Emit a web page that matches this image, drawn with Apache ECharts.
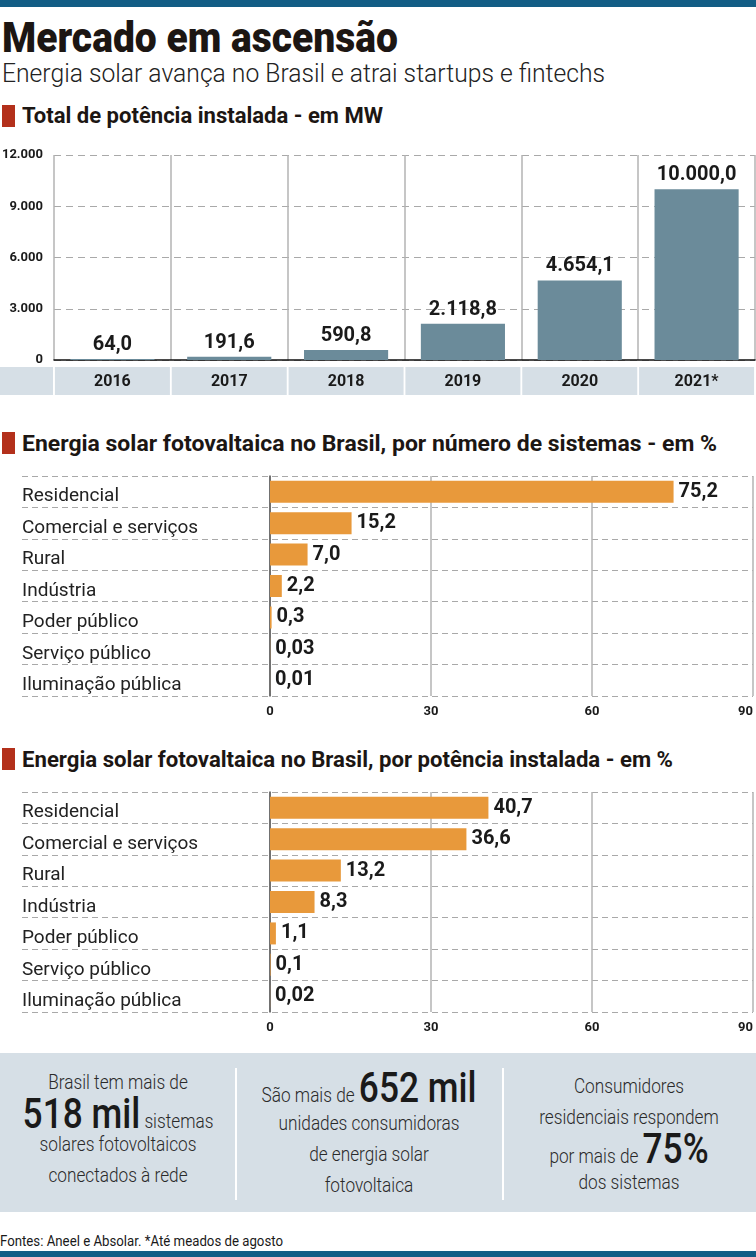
<!DOCTYPE html>
<html lang="pt-BR">
<head>
<meta charset="UTF-8">
<title>Mercado em ascensão</title>
<script src="https://cdn.jsdelivr.net/npm/echarts@6/dist/echarts.min.js"></script>
<style>
    body { margin: 0; background: #fff; font-family: Roboto, "Noto Sans", sans-serif; color: #1a1a1a; }
    #page { position: relative; width: 756px; height: 1257px; overflow: hidden; }
    .abs { position: absolute; }
    .faixa { left: 0; width: 756px; background: #135d85; }
    .quad { left: 2px; width: 13px; height: 22px; background: #b3301b; }
    .fit { white-space: nowrap; transform-origin: left top; display: inline-block; }
    .titulo { left: 2px; top: 17px; font-size: 42px; line-height: 42px; font-weight: 900; color: #1c1613; }
    .sub { left: 2px; top: 60px; font-size: 26px; line-height: 26px; font-weight: 300; color: #222; }
    .head { left: 22px; font-size: 22px; line-height: 22px; font-weight: 700; color: #1c1613; }
    .box { left: 0; top: 1053px; width: 756px; height: 159px; background: #d6dfe6; }
    .sep { top: 15px; width: 2px; height: 132px; background: #fff; }
    .col { width: 300px; text-align: center; transform: scaleX(0.82); transform-origin: center top;
           font-size: 21px; font-weight: 300; color: #2a2a2a; white-space: nowrap; }
    .col div { height: 31px; line-height: 31px; }
    .big { font-size: 43px; font-weight: 500; color: #1a1a1a; line-height: 31px; }
    .fonte { left: 0; top: 1233px; font-size: 14px; line-height: 16px; color: #1a1a1a; }
</style>
</head>
<body>
<div id="page">
    <div class="abs faixa" style="top:0;height:7px;"></div>

    <div class="abs fit titulo" data-w="396">Mercado em ascensão</div>
    <div class="abs fit sub" data-w="603">Energia solar avança no Brasil e atrai startups e fintechs</div>

    <div class="abs quad" style="top:105px;"></div>
    <div class="abs fit head" style="top:105px;" data-w="361">Total de potência instalada - em MW</div>
    <div id="grafico1" class="abs" style="left:0;top:140px;width:756px;height:260px;"></div>

    <div class="abs quad" style="top:432px;"></div>
    <div class="abs fit head" style="top:433px;" data-w="695">Energia solar fotovaltaica no Brasil, por número de sistemas - em %</div>
    <div id="grafico2" class="abs" style="left:0;top:465px;width:756px;height:265px;"></div>

    <div class="abs quad" style="top:748px;"></div>
    <div class="abs fit head" style="top:749px;" data-w="651">Energia solar fotovaltaica no Brasil, por potência instalada - em %</div>
    <div id="grafico3" class="abs" style="left:0;top:781px;width:756px;height:265px;"></div>

    <!--quadro de destaques-->
    <div class="abs box">
        <div class="abs sep" style="left:235px;"></div>
        <div class="abs sep" style="left:502px;"></div>
        <div class="abs col" style="left:-32px;top:14px;">
            <div>Brasil tem mais de</div>
            <div><span class="big">518 mil</span> sistemas</div>
            <div>solares fotovoltaicos</div>
            <div>conectados à rede</div>
        </div>
        <div class="abs col" style="left:219px;top:19px;">
            <div>São mais de <span class="big">652 mil</span></div>
            <div style="margin-top:5px;">unidades consumidoras</div>
            <div>de energia solar</div>
            <div>fotovoltaica</div>
        </div>
        <div class="abs col" style="left:479px;top:18px;">
            <div>Consumidores</div>
            <div>residenciais respondem</div>
            <div>por mais de <span class="big">75%</span></div>
            <div style="margin-top:3px;">dos sistemas</div>
        </div>
    </div>

    <div class="abs fit fonte" data-w="283">Fontes: Aneel e Absolar. *Até meados de agosto</div>
    <div class="abs faixa" style="top:1251px;height:6px;"></div>
</div>

<script>
    // dados
    var anos = ['2016', '2017', '2018', '2019', '2020', '2021*'];
    var potenciaMW = [64.0, 191.6, 590.8, 2118.8, 4654.1, 10000.0];
    var eixoMW = [0, 12000, 3000];     // min, max, intervalo
    var eixoPct = [0, 90, 30];
    var categorias = ['Residencial', 'Comercial e serviços', 'Rural', 'Indústria',
                      'Poder público', 'Serviço público', 'Iluminação pública'];
    var porSistemas = [75.2, 15.2, 7.0, 2.2, 0.3, 0.03, 0.01];
    var porPotencia = [40.7, 36.6, 13.2, 8.3, 1.1, 0.1, 0.02];

    var FONTE = 'Roboto, "Noto Sans", sans-serif';

    // ajusta a largura dos textos ao original
    document.querySelectorAll('.fit').forEach(function (el) {
        var w = el.getBoundingClientRect().width;
        el.style.transform = 'scaleX(' + (el.dataset.w / w) + ')';
    });

    // 12345.6 -> "12.345,6"
    function fmtBR(v, dec) {
        var p = v.toFixed(dec).split('.');
        var inteiro = p[0].replace(/\B(?=(\d{3})+(?!\d))/g, '.');
        return p.length > 1 ? inteiro + ',' + p[1] : inteiro;
    }

    function loadColunas() {
        var myChart = echarts.init(document.getElementById('grafico1'));
        myChart.setOption({
            animation: false,
            grid: { left: 54, right: 1, top: 15, height: 205, outerBoundsMode: 'none' },
            xAxis: {
                type: 'category',
                data: anos,
                axisLine: { lineStyle: { color: '#111', width: 1.5 } },
                axisTick: { show: false },
                splitLine: { show: true, interval: 0, lineStyle: { color: '#b3b3b3', width: 1.5 } },
                axisLabel: {
                    interval: 0, margin: 7,
                    color: '#1a1a1a', fontSize: 16, fontWeight: 'bold', fontFamily: FONTE,
                    backgroundColor: '#d6dfe6', width: 115, height: 28, lineHeight: 30,
                    align: 'center', verticalAlign: 'top'
                }
            },
            yAxis: {
                type: 'value',
                min: eixoMW[0], max: eixoMW[1], interval: eixoMW[2],
                axisLine: { show: false },
                axisTick: { show: false },
                axisLabel: {
                    margin: 11, color: '#1a1a1a', fontSize: 13, fontWeight: 'bold', fontFamily: FONTE,
                    formatter: function (v) { return fmtBR(v, 0); }
                },
                splitLine: { lineStyle: { color: '#a9a9a9', type: [7, 5], width: 1.2 } }
            },
            graphic: [{
                type: 'rect',
                shape: { x: 0, y: 227, width: 53, height: 28 },
                style: { fill: '#d6dfe6' }
            }],
            series: [{
                type: 'bar',
                data: potenciaMW,
                barWidth: '72%',
                itemStyle: { color: '#6b8b9a' },
                label: {
                    show: true, position: 'top', distance: 4,
                    color: '#1a1a1a', fontSize: 20, fontWeight: 'bold', fontFamily: FONTE,
                    formatter: function (p) { return fmtBR(p.value, 1); }
                }
            }]
        });
    }

    function opcaoHorizontal(valores) {
        return {
            animation: false,
            grid: [
                { left: 270, right: 3, top: 11, height: 220, outerBoundsMode: 'none' },
                { left: 22, right: 3, top: 11, height: 220, outerBoundsMode: 'none' }   // só as linhas tracejadas
            ],
            xAxis: [{
                type: 'value', gridIndex: 0,
                min: eixoPct[0], max: eixoPct[1], interval: eixoPct[2],
                axisLine: { show: false },
                axisTick: { show: false },
                axisLabel: {
                    margin: 9, color: '#1a1a1a', fontSize: 13, fontWeight: 'bold', fontFamily: FONTE,
                    alignMaxLabel: 'right'
                },
                splitLine: { lineStyle: { color: '#b3b3b3', width: 1.5 } }
            }, {
                type: 'value', gridIndex: 1, show: false, min: 0, max: 1
            }],
            yAxis: [{
                type: 'category', gridIndex: 0,
                data: categorias, inverse: true,
                axisLine: { lineStyle: { color: '#555', width: 1.5 } },
                axisTick: { show: false },
                splitLine: { show: false },
                axisLabel: {
                    interval: 0, align: 'left', margin: 248,
                    verticalAlign: 'top', lineHeight: 10,
                    color: '#222', fontSize: 19, fontFamily: FONTE
                }
            }, {
                type: 'category', gridIndex: 1,
                data: categorias, inverse: true,
                axisLine: { show: false },
                axisTick: { show: false },
                axisLabel: { show: false },
                splitLine: { show: true, interval: 0, lineStyle: { color: '#a9a9a9', type: [6, 4], width: 1.2 } }
            }],
            series: [{
                type: 'bar',
                data: valores,
                barWidth: 22,
                itemStyle: { color: '#e8993b' },
                label: {
                    show: true, position: 'right', distance: 5,
                    color: '#1a1a1a', fontSize: 20, fontWeight: 'bold', fontFamily: FONTE,
                    formatter: function (p) { return p.value.toFixed(p.value < 0.1 ? 2 : 1).replace('.', ','); }
                }
            }]
        };
    }

    loadColunas();
    echarts.init(document.getElementById('grafico2')).setOption(opcaoHorizontal(porSistemas));
    echarts.init(document.getElementById('grafico3')).setOption(opcaoHorizontal(porPotencia));
</script>
</body>
</html>
